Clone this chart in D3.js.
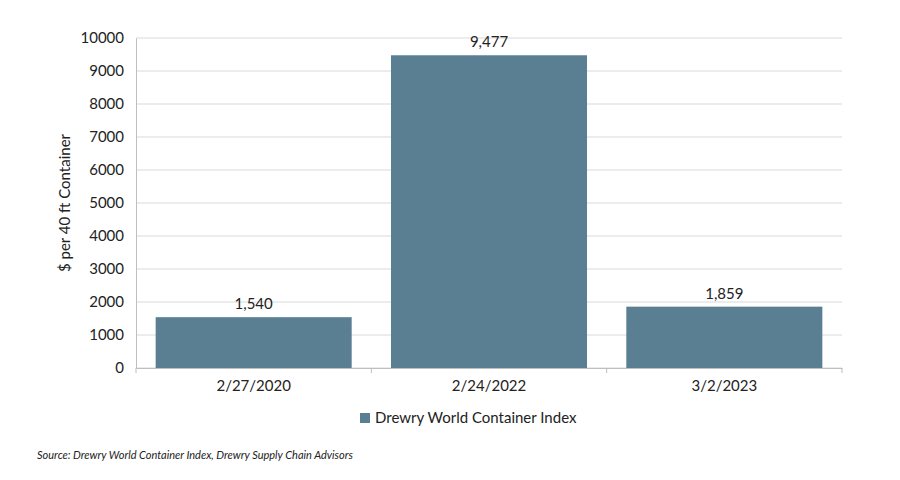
<!DOCTYPE html>
<html><head><meta charset="utf-8">
<script src="https://cdn.jsdelivr.net/npm/d3@7"></script>
<style>body{margin:0;background:#fff;font-family:Lato,"Open Sans",sans-serif;}</style>
</head><body><svg id="c" width="900" height="480"></svg>
<script>
const categories = ["2/27/2020","2/24/2022","3/2/2023"];
const values = [1540,9477,1859];
const yTicks = [0,1000,2000,3000,4000,5000,6000,7000,8000,9000,10000];
const seriesName = "Drewry World Container Index";
const sourceText = "Source: Drewry World Container Index, Drewry Supply Chain Advisors";

const svg = d3.select("#c");
const L=136,R=842,T=38,B=368, color="#5b7f92";
const x = d3.scaleBand().domain(categories).range([L,R]).paddingInner(0.167).paddingOuter(0.0835);
const y = d3.scaleLinear().domain([0,10000]).range([B,T]);

svg.append("g").selectAll("line").data(yTicks).join("line")
 .attr("x1",L).attr("x2",R).attr("y1",d=>y(d)).attr("y2",d=>y(d))
 .attr("stroke","#d9d9d9");
const ya = svg.append("g").attr("transform",`translate(${L},0)`)
 .call(d3.axisLeft(y).tickValues(yTicks).tickFormat(d3.format("d")).tickSize(0).tickPadding(12));
ya.select(".domain").attr("stroke","#bfbfbf");
ya.selectAll("text").attr("font-size",15).attr("fill","#222").attr("font-family","Lato,sans-serif");

svg.selectAll("rect.b").data(values).join("rect").attr("class","b")
 .attr("x",(d,i)=>x(categories[i])).attr("width",x.bandwidth())
 .attr("y",d=>y(d)).attr("height",d=>B-y(d)).attr("fill",color);
svg.selectAll("text.v").data(values).join("text")
 .attr("x",(d,i)=>x(categories[i])+x.bandwidth()/2).attr("y",d=>y(d)-8)
 .attr("text-anchor","middle").attr("font-size",15).attr("fill","#222").text(d3.format(","));

const xa = svg.append("g").attr("transform",`translate(0,${B})`)
 .call(d3.axisBottom(x).tickSize(0).tickPadding(12));
xa.select(".domain").attr("stroke","#bfbfbf");
xa.selectAll("text").attr("font-size",15).attr("fill","#222").attr("font-family","Lato,sans-serif");
svg.append("g").selectAll("line").data([L,x.step()+L,2*x.step()+L,R]).join("line")
 .attr("x1",d=>d).attr("x2",d=>d).attr("y1",B).attr("y2",B+5).attr("stroke","#bfbfbf");

svg.append("text").attr("transform",`translate(70,${(T+B)/2}) rotate(-90)`)
 .attr("text-anchor","middle").attr("font-size",15).attr("fill","#222").text("$ per 40 ft Container");

svg.append("rect").attr("x",360).attr("y",413).attr("width",10).attr("height",10).attr("fill",color);
svg.append("text").attr("x",375).attr("y",423).attr("font-size",15).attr("fill","#222").text(seriesName);
svg.append("text").attr("x",37).attr("y",459).attr("font-size",11).attr("font-style","italic").attr("fill","#222").text(sourceText);
</script></body></html>
